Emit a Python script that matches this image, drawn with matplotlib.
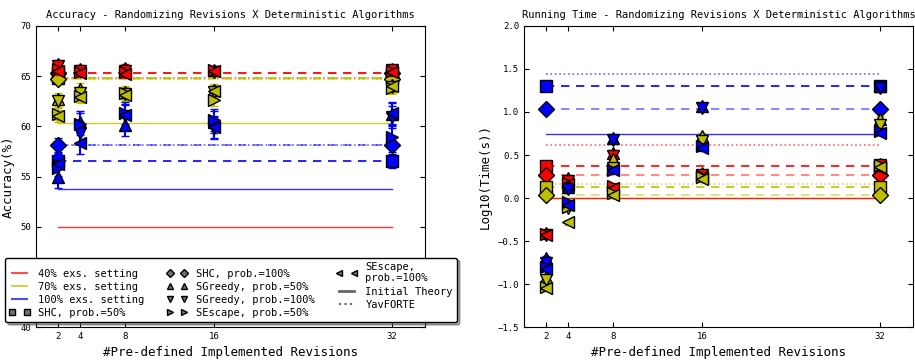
import matplotlib.pyplot as plt
from matplotlib.lines import Line2D

# x positions: number of pre-defined implemented revisions
revisions = [2, 4, 8, 16, 32]

# ---- accuracy (%) ----
# horizontal reference lines per setting (40%, 70%, 100%)
acc_initial = [50.0, 60.3, 53.8]
acc_yav = [64.8, 64.7, 58.1]
acc_shc50 = [65.3, 64.8, 56.5]
acc_shc100 = [65.3, 64.7, 58.1]
acc_shc_err = [0.3, 0.3, 0.7]

# randomized algorithms: SGreedy 50%, SGreedy 100%, SEscape 50%, SEscape 100%
acc40_sg50 = [66.2, 65.7, 65.8, 65.6, 65.7]
acc40_sg100 = [66.0, 65.5, 65.5, 65.4, 65.6]
acc40_se50 = [65.7, 65.4, 65.4, 65.6, 65.5]
acc40_se100 = [65.5, 65.3, 65.2, 65.5, 65.4]
acc70_sg50 = [62.7, 63.7, 63.4, 63.6, 64.1]
acc70_sg100 = [62.5, 63.3, 63.2, 63.4, 63.9]
acc70_se50 = [61.2, 63.0, 63.3, 62.6, 63.8]
acc70_se100 = [61.0, 62.9, 63.1, 63.5, 64.0]
acc100_sg50 = [55.0, 60.4, 60.1, 60.4, 61.2]
acc100_sg100 = [56.0, 59.3, 61.0, 59.8, 60.9]
acc100_se50 = [55.8, 60.2, 61.3, 60.6, 58.9]
acc100_se100 = [56.2, 58.3, 61.1, 59.9, 61.3]
acc_err = [0.4, 0.6, 1.1]

# ---- running time log10(s) ----
time_initial = [0.0, 0.0, 0.74]
time_yav = [0.62, 0.16, 1.44]
time_shc50 = [0.37, 0.13, 1.30]
time_shc100 = [0.27, 0.03, 1.04]
time_shc_err = [0.02, 0.02, 0.02]

time40_sg50 = [-0.41, 0.23, 0.52, 0.29, 0.40]
time40_sg100 = [-0.43, 0.20, 0.49, 0.27, 0.38]
time40_se50 = [-0.42, 0.18, 0.14, 0.26, 0.36]
time40_se100 = [-0.43, 0.16, 0.12, 0.25, 0.35]
time70_sg50 = [-0.92, 0.15, 0.45, 0.72, 0.92]
time70_sg100 = [-0.95, -0.12, 0.35, 0.66, 0.85]
time70_se50 = [-1.03, -0.10, 0.06, 0.24, 0.38]
time70_se100 = [-1.05, -0.28, 0.03, 0.22, 0.36]
time100_sg50 = [-0.70, 0.13, 0.70, 1.07, 1.30]
time100_sg100 = [-0.75, 0.10, 0.68, 1.05, 1.28]
time100_se50 = [-0.80, -0.05, 0.33, 0.60, 0.78]
time100_se100 = [-0.82, -0.08, 0.32, 0.58, 0.76]
time_err = [0.04, 0.03, 0.03]

colors = ['r', 'y', 'b']
settings = ['40% exs. setting', '70% exs. setting', '100% exs. setting']

acc_series = [
    [acc40_sg50, acc40_sg100, acc40_se50, acc40_se100],
    [acc70_sg50, acc70_sg100, acc70_se50, acc70_se100],
    [acc100_sg50, acc100_sg100, acc100_se50, acc100_se100],
]
time_series = [
    [time40_sg50, time40_sg100, time40_se50, time40_se100],
    [time70_sg50, time70_sg100, time70_se50, time70_se100],
    [time100_sg50, time100_sg100, time100_se50, time100_se100],
]
tri_markers = ['^', 'v', '>', '<']

plt.rcParams['font.family'] = 'DejaVu Sans Mono'

fig = plt.figure(figsize=(9.15, 3.64), dpi=100)
ax1 = fig.add_axes([0.0393, 0.1016, 0.4252, 0.827])
ax2 = fig.add_axes([0.5727, 0.1016, 0.4252, 0.827])


def draw(ax, initial, yav, shc50, shc100, shc_err, series, err):
    ends = [revisions[0], revisions[-1]]
    # red on top of yellow where the lines coincide
    line_z = [1.6, 1.4, 1.5]
    for i, c in enumerate(colors):
        ax.plot(ends, [initial[i]] * 2, '-', color=c, alpha=0.8, lw=1, zorder=line_z[i])
        ax.plot(ends, [yav[i]] * 2, ':', color=c, alpha=0.6, lw=1.2)
    for i, c in enumerate(colors):
        ax.plot(ends, [shc50[i]] * 2, '--', color=c, lw=1.2, dashes=(5, 4))
        ax.plot(ends, [shc100[i]] * 2, '--', color=c, lw=1.2, alpha=0.55, dashes=(5, 4))
        ax.errorbar(ends, [shc50[i]] * 2, yerr=shc_err[i], fmt='s', color=c,
                    mec='k', ms=8, capsize=3, zorder=3)
        ax.errorbar(ends, [shc100[i]] * 2, yerr=shc_err[i], fmt='D', color=c,
                    mec='k', ms=8, capsize=3, zorder=3)
    for i, c in enumerate(colors):
        for vals, m in zip(series[i], tri_markers):
            ax.errorbar(revisions, vals, yerr=err[i], fmt=m, color=c, mec='k',
                        ms=8, capsize=3, zorder=4)
    ax.set_xlim(0, 35)
    ax.set_xticks(revisions)
    ax.tick_params(direction='in', top=True, right=True, labelsize=6.5)
    ax.set_xlabel('#Pre-defined Implemented Revisions', fontsize=9)


draw(ax1, acc_initial, acc_yav, acc_shc50, acc_shc100, acc_shc_err, acc_series, acc_err)
ax1.set_ylim(40, 70)
ax1.set_yticks([40, 45, 50, 55, 60, 65, 70])
ax1.set_ylabel('Accuracy(%)', fontsize=9)
ax1.set_title('Accuracy - Randomizing Revisions X Deterministic Algorithms', fontsize=7.5)

draw(ax2, time_initial, time_yav, time_shc50, time_shc100, time_shc_err, time_series, time_err)
ax2.set_ylim(-1.5, 2.0)
ax2.set_yticks([-1.5, -1.0, -0.5, 0.0, 0.5, 1.0, 1.5, 2.0])
ax2.set_ylabel('Log10(Time(s))', fontsize=9)
ax2.set_title('Running Time - Randomizing Revisions X Deterministic Algorithms', fontsize=7.5)

# legend
handles = [Line2D([], [], color=c, alpha=0.7) for c in colors]
alg_markers = ['s', 'D', '^', 'v', '>', '<']
alg_names = ['SHC, prob.=50%', 'SHC, prob.=100%', 'SGreedy, prob.=50%',
             'SGreedy, prob.=100%', 'SEscape, prob.=50%', 'SEscape,\nprob.=100%']
for m in alg_markers:
    handles.append(Line2D([], [], ls='none', marker=m, color='0.45', mec='k', ms=4))
handles.append(Line2D([], [], color='0.4', lw=2))
handles.append(Line2D([], [], color='0.4', ls=':'))
labels = settings + alg_names + ['Initial Theory', 'YavFORTE']

leg = ax1.legend(handles, labels, ncol=3, numpoints=2, fontsize=7.5,
                 loc='lower left', mode='expand', fancybox=True, shadow=True,
                 bbox_to_anchor=(0.0055, 0.115, 0.494, 0.198),
                 bbox_transform=fig.transFigure, borderaxespad=0,
                 handlelength=2, labelspacing=0.3, columnspacing=0.8)
leg.get_frame().set_edgecolor('k')
leg.set_zorder(10)

fig.savefig('out.png', dpi=100)
